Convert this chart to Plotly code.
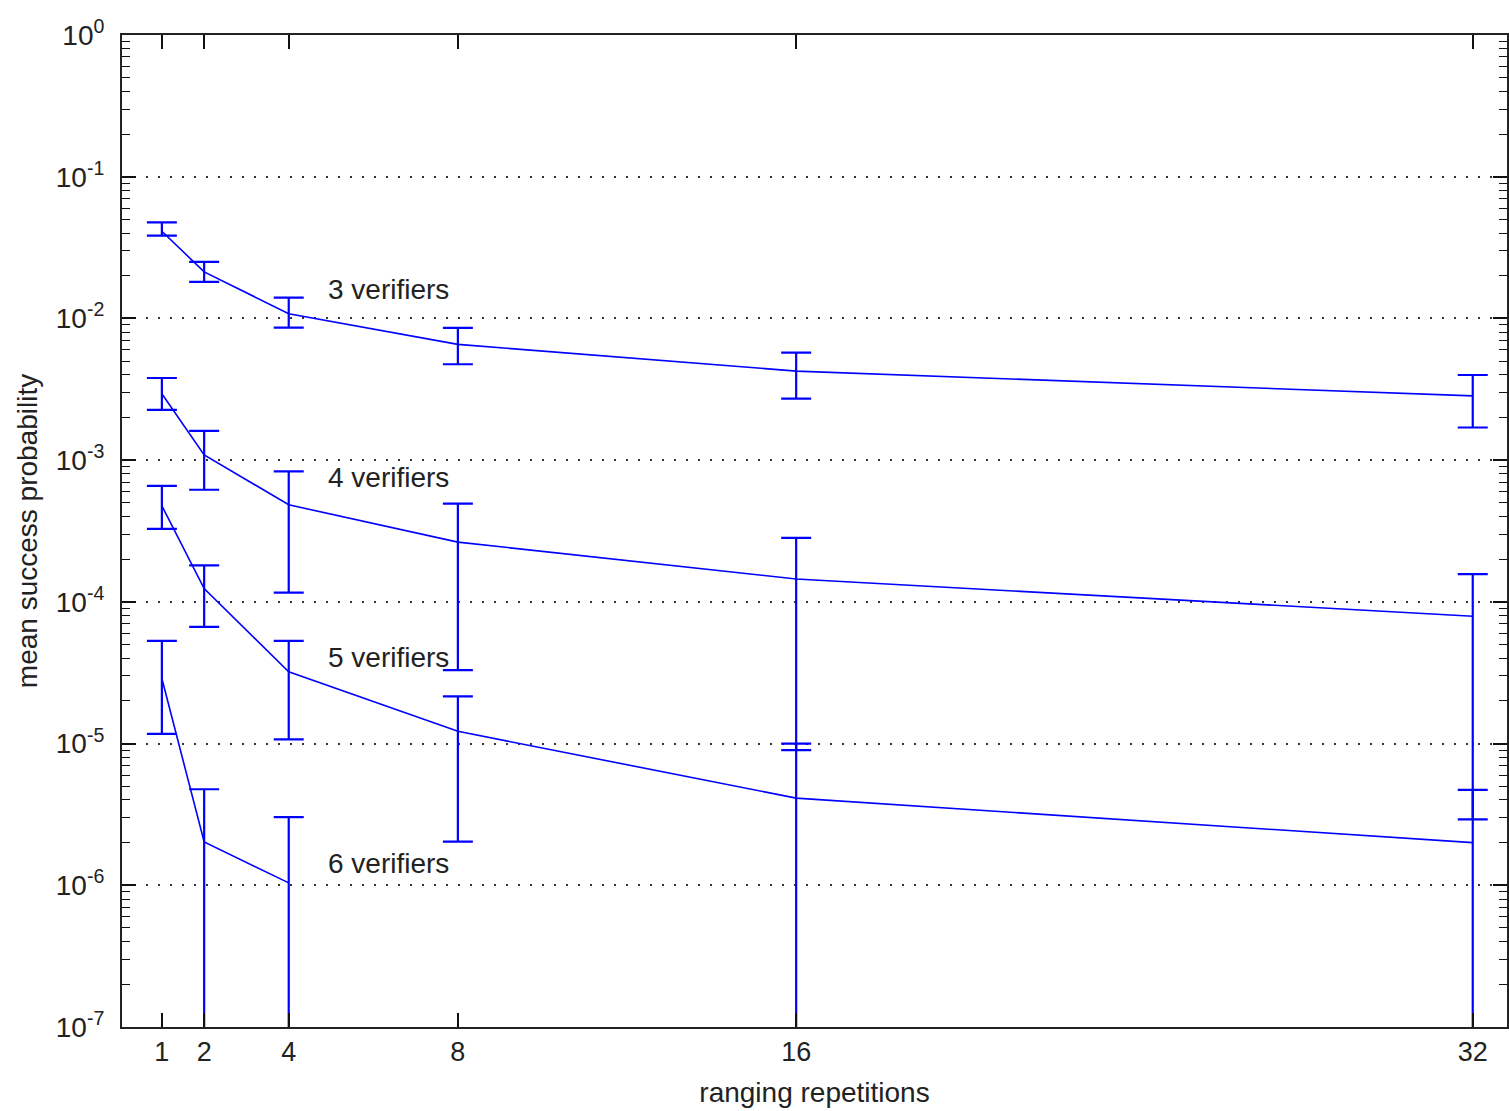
import numpy as np
import plotly.graph_objects as go

# ---------------- data ----------------
reps = [1, 2, 4, 8, 16, 32]
reps_6 = [1, 2, 4]

v3_mean = [0.0412, 0.0213, 0.0108, 0.00656, 0.00425, 0.00284]
v3_upper = [0.0476, 0.0251, 0.0140, 0.00857, 0.00573, 0.00399]
v3_lower = [0.0384, 0.0181, 0.00860, 0.00475, 0.00272, 0.00170]

v4_mean = [0.00294, 0.00109, 0.000484, 0.000264, 0.000145, 7.92e-5]
v4_upper = [0.00380, 0.00161, 0.000832, 0.000494, 0.000283, 0.000157]
v4_lower = [0.00226, 0.000618, 0.000116, 3.30e-5, 9.0e-6, 2.92e-6]

# lower bound 0 -> error bar runs down to the axis floor
v5_mean = [0.000476, 0.000124, 3.21e-5, 1.22e-5, 4.12e-6, 2.0e-6]
v5_upper = [0.000659, 0.000181, 5.31e-5, 2.15e-5, 1.0e-5, 4.71e-6]
v5_lower = [0.000327, 6.67e-5, 1.07e-5, 2.03e-6, 0, 0]

v6_mean = [2.88e-5, 2.02e-6, 1.04e-6]
v6_upper = [5.31e-5, 4.76e-6, 3.03e-6]
v6_lower = [1.17e-5, 0, 0]

series_labels = ["3 verifiers", "4 verifiers", "5 verifiers", "6 verifiers"]
label_x = [4.87, 4.87, 4.87, 4.87]
label_y = [0.016, 7.6e-4, 4.04e-5, 1.43e-6]

x_ticks = [1, 2, 4, 8, 16, 32]
y_tick_exp = [0, -1, -2, -3, -4, -5, -6, -7]

# ---------------- figure ----------------
FONT = "Liberation Sans, Arial, Helvetica, sans-serif"
BLUE = "#0000ff"

fig = go.Figure()

series = [
    (reps, v3_mean, v3_upper, v3_lower),
    (reps, v4_mean, v4_upper, v4_lower),
    (reps, v5_mean, v5_upper, v5_lower),
    (reps_6, v6_mean, v6_upper, v6_lower),
]
for xs, m, up, lo in series:
    m = np.array(m, dtype=float)
    plus = np.array(up, dtype=float) - m
    minus = m - np.array(lo, dtype=float)
    fig.add_trace(go.Scatter(
        x=xs, y=m, mode="lines",
        line=dict(color=BLUE, width=1.6),
        error_y=dict(type="data", symmetric=False, array=plus, arrayminus=minus,
                     color=BLUE, thickness=2.2, width=15),
        showlegend=False, hoverinfo="skip",
    ))

for txt, lx, ly in zip(series_labels, label_x, label_y):
    fig.add_annotation(x=lx, y=np.log10(ly), text=txt, showarrow=False,
                       xanchor="left", yanchor="middle",
                       font=dict(family=FONT, size=28, color="#222"))

minor_vals = [m * 10.0 ** e for e in range(-7, 0) for m in range(2, 10)]

fig.update_layout(
    width=1509, height=1111,
    margin=dict(l=122, r=0, t=35, b=84),
    paper_bgcolor="white", plot_bgcolor="white",
    font=dict(family=FONT, size=27, color="#222"),
    xaxis=dict(
        range=[0.057, 32.81], showgrid=False, zeroline=False,
        tickmode="array", tickvals=x_ticks, ticktext=[str(v) for v in x_ticks],
        ticks="inside", ticklen=14, tickwidth=1.5, tickcolor="#111",
        showline=True, linecolor="#222", linewidth=2, mirror="ticks",
        title=dict(text="ranging repetitions", font=dict(size=28), standoff=16),
    ),
    yaxis=dict(
        type="log", range=[-7, 0], zeroline=False,
        tickmode="array", tickvals=[10.0 ** e for e in y_tick_exp],
        ticktext=["10<sup>%d</sup>" % e for e in y_tick_exp],
        ticklabelstandoff=10, tickfont=dict(size=28),
        ticks="inside", ticklen=14, tickwidth=1.5, tickcolor="#111",
        showline=True, linecolor="#222", linewidth=2, mirror="ticks",
        showgrid=True, gridcolor="#333", gridwidth=1.5, griddash="2px,10px",
        minor=dict(tickmode="array", tickvals=minor_vals, ticks="inside",
                   ticklen=8, tickwidth=1.3, tickcolor="#111", showgrid=False),
        title=dict(text="mean success probability", font=dict(size=28), standoff=10),
    ),
)

fig.write_html("out.html")
